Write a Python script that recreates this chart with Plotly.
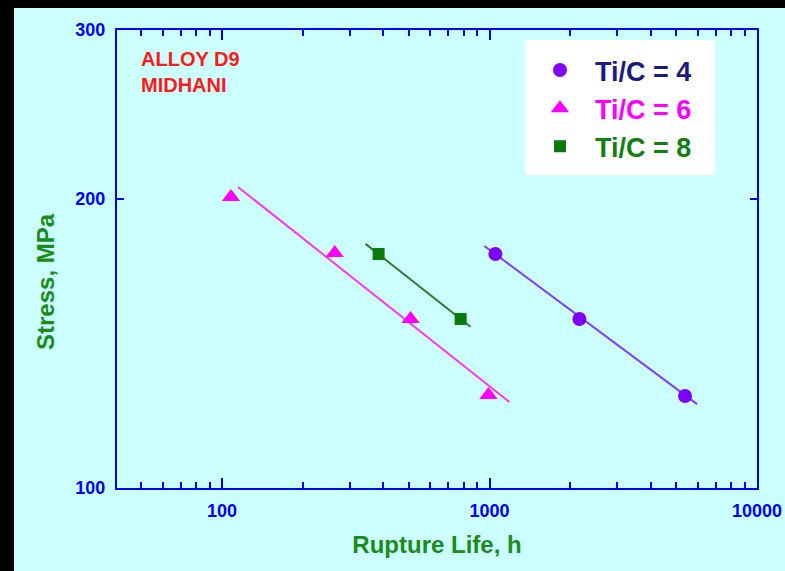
import plotly.graph_objects as go
import math

# ---- data ----
ti4_life = [1052, 2168, 5383]
ti4_stress = [175.3, 150.0, 124.7]
ti4_fit_life = [957, 5970]
ti4_fit_stress = [178.7, 122.3]

ti6_life = [108, 264, 507, 991]
ti6_stress = [201.0, 175.7, 150.0, 125.0]
ti6_fit_life = [114.7, 1187]
ti6_fit_stress = [205.9, 122.9]

ti8_life = [385, 780]
ti8_stress = [175.3, 150.0]
ti8_fit_life = [344, 849]
ti8_fit_stress = [179.6, 147.2]

x_ticks = [100, 1000, 10000]
x_ticktext = ["100", "1000", "10000"]
y_ticks = [100, 200, 300]
y_ticktext = ["100", "200", "300"]

FONT = "Liberation Sans, Arial, sans-serif"
BLUE = "#0000ff"
GREEN_T = "#1a8c1a"
PURPLE = "#7f00ff"
MAGENTA = "#ff00ff"
GREEN = "#0a7a0a"

W, H = 785, 571
L, R, T, B = 117, 757, 30, 488
pw, ph = R - L, B - T

def px_x(p):
    return (p - L) / pw

def px_y(p):
    return (B - p) / ph

fig = go.Figure()

# fit lines
fig.add_trace(go.Scatter(x=ti4_fit_life, y=ti4_fit_stress, mode="lines",
                         line=dict(color="#8040ff", width=2), showlegend=False, hoverinfo="skip"))
fig.add_trace(go.Scatter(x=ti6_fit_life, y=ti6_fit_stress, mode="lines",
                         line=dict(color="#ff33ff", width=2), showlegend=False, hoverinfo="skip"))
fig.add_trace(go.Scatter(x=ti8_fit_life, y=ti8_fit_stress, mode="lines",
                         line=dict(color="#2e7d2e", width=2), showlegend=False, hoverinfo="skip"))

# data points
fig.add_trace(go.Scatter(x=ti4_life, y=ti4_stress, mode="markers",
                         marker=dict(symbol="circle", size=14, color=PURPLE),
                         name="<span style='color:#1a1a80'>Ti/C = 4</span>"))
fig.add_trace(go.Scatter(x=ti6_life, y=ti6_stress, mode="markers",
                         marker=dict(symbol="triangle-up", size=16, color=MAGENTA),
                         name="<span style='color:#ff00ff'>Ti/C = 6</span>"))
fig.add_trace(go.Scatter(x=ti8_life, y=ti8_stress, mode="markers",
                         marker=dict(symbol="square", size=12, color=GREEN),
                         name="<span style='color:#108010'>Ti/C = 8</span>"))

minor_x = [m * 10 ** k for k in (1, 2, 3) for m in range(2, 10) if 40 <= m * 10 ** k < 10000]

fig.update_layout(
    width=W, height=H,
    margin=dict(l=L, r=W - R, t=T, b=H - B, autoexpand=False),
    paper_bgcolor="#000000",
    plot_bgcolor="#ccffff",
    font=dict(family=FONT, color=BLUE),
    showlegend=True,
    legend=dict(x=px_x(525), y=px_y(46), xanchor="left", yanchor="top",
                bgcolor="rgba(0,0,0,0)", borderwidth=0,
                font=dict(family=FONT, size=27, color="#1a1a80", weight="bold"),
                itemwidth=60, tracegroupgap=0),
    xaxis=dict(type="log", range=[math.log10(40.5), 4],
               tickvals=x_ticks, ticktext=x_ticktext,
               ticks="inside", ticklen=10, tickwidth=1.5, tickcolor=BLUE,
               minor=dict(tickvals=minor_x, ticks="inside", ticklen=6, tickwidth=1.5,
                          tickcolor=BLUE, showgrid=False),
               showline=True, linecolor=BLUE, linewidth=2, mirror="ticks",
               showgrid=False, zeroline=False,
               tickfont=dict(family=FONT, size=18, color=BLUE, weight="bold"),
               ticklabelstandoff=5,
               title=dict(text="Rupture Life, h", standoff=17,
                          font=dict(family=FONT, size=24, color=GREEN_T, weight="bold"))),
    yaxis=dict(type="log", range=[2, math.log10(300)],
               tickvals=y_ticks, ticktext=y_ticktext,
               ticks="inside", ticklen=7, tickwidth=1.5, tickcolor=BLUE,
               showline=True, linecolor=BLUE, linewidth=2, mirror="ticks",
               showgrid=False, zeroline=False,
               tickfont=dict(family=FONT, size=18, color=BLUE, weight="bold"),
               ticklabelstandoff=6),
    shapes=[
        dict(type="rect", xref="paper", yref="paper", layer="below",
             x0=px_x(14), x1=px_x(W + 2), y0=px_y(H + 2), y1=px_y(8),
             fillcolor="#ccffff", line=dict(width=0)),
        dict(type="rect", xref="paper", yref="paper", layer="above",
             x0=px_x(525), x1=px_x(715), y0=px_y(175), y1=px_y(40),
             fillcolor="#ffffff", line=dict(width=0)),
    ],
    annotations=[
        dict(text="ALLOY D9<br>MIDHANI", xref="paper", yref="paper",
             x=px_x(139), y=px_y(46), xanchor="left", yanchor="top", align="left",
             showarrow=False,
             font=dict(family=FONT, size=20, color="#ff1a1a", weight="bold")),
        dict(text="Stress, MPa", xref="paper", yref="paper",
             x=px_x(45), y=px_y(282), xanchor="center", yanchor="middle",
             textangle=-90, showarrow=False,
             font=dict(family=FONT, size=24, color=GREEN_T, weight="bold")),
    ],
)

fig.write_html("out.html")
